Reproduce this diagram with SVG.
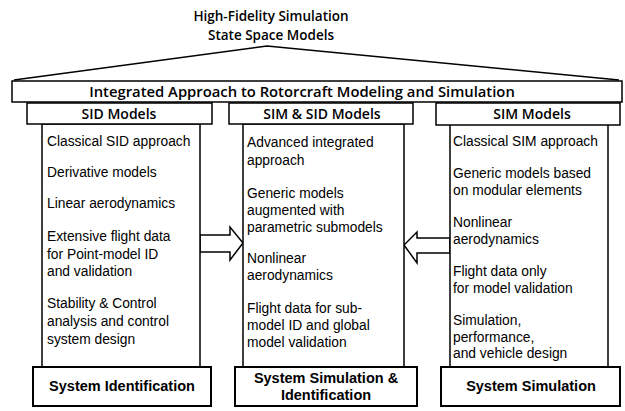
<svg xmlns="http://www.w3.org/2000/svg" width="625" height="411" viewBox="0 0 625 411">
  <style>
    text { font-family: "Open Sans", "Noto Sans", "Liberation Sans", sans-serif; fill: #000; }
    .title { font-size: 13.5px; font-weight: 600; text-anchor: middle; }
    .banner { font-size: 14.8px; font-weight: 600; text-anchor: middle; }
    .head { font-size: 14px; font-weight: 600; text-anchor: middle; }
    .body { font-family: "Liberation Sans", Arial, sans-serif; font-size: 13.8px; }
    .foot { font-family: "Liberation Sans", Arial, sans-serif; font-size: 14.5px; font-weight: bold; text-anchor: middle; }
    .box { fill: #fff; stroke: #000; stroke-width: 1.5; }
    .footbox { fill: #fff; stroke: #000; stroke-width: 2; }
    .arrow { fill: #fff; stroke: #000; stroke-width: 1.5; stroke-linejoin: miter; }
  </style>

  <rect width="625" height="411" fill="#fff"/>

  <!-- roof with title -->
  <g id="roof">
    <text class="title" x="271" y="21">High-Fidelity Simulation<tspan x="271" dy="19">State Space Models</tspan></text>
    <polyline points="14,80 267,46 619,80" fill="none" stroke="#000" stroke-width="1.5"/>
  </g>

  <!-- banner across the columns -->
  <g id="banner">
    <rect class="box" x="12" y="81" width="610" height="21"/>
    <text class="banner" x="302" y="97">Integrated Approach to Rotorcraft Modeling and Simulation</text>
  </g>

  <!-- connectors: hollow block arrows into the middle column -->
  <g id="connectors">
    <polygon class="arrow" points="200,235 230,235 230,227 243,243 230,260 230,252 200,252"/>
    <polygon class="arrow" points="450,238 417,238 417,232 404,245 417,263 417,253 450,253"/>
  </g>

  <!-- left column -->
  <g id="sid">
    <rect class="box" x="42" y="124" width="158" height="243"/>
    <rect class="box" x="27" y="103" width="185" height="21"/>
    <text class="head" x="119" y="119">SID Models</text>
    <text class="body" x="47" y="146">Classical SID approach</text>
    <text class="body" x="47" y="177">Derivative models</text>
    <text class="body" x="47" y="208">Linear aerodynamics</text>
    <text class="body" x="47" y="241">Extensive flight data<tspan x="47" dy="18">for Point-model ID</tspan><tspan x="47" dy="17">and validation</tspan></text>
    <text class="body" x="47" y="308">Stability &amp; Control<tspan x="47" dy="18">analysis and control</tspan><tspan x="47" dy="18">system design</tspan></text>
    <rect class="footbox" x="33" y="367" width="178" height="39"/>
    <text class="foot" x="122" y="391">System Identification</text>
  </g>

  <!-- middle column -->
  <g id="simsid">
    <rect class="box" x="243" y="124" width="161" height="243"/>
    <rect class="box" x="229" y="103" width="184" height="21"/>
    <text class="head" x="322" y="119">SIM &amp; SID Models</text>
    <text class="body" x="247" y="147">Advanced integrated<tspan x="247" dy="18">approach</tspan></text>
    <text class="body" x="247" y="198">Generic models<tspan x="247" dy="17">augmented with</tspan><tspan x="247" dy="17">parametric submodels</tspan></text>
    <text class="body" x="247" y="263">Nonlinear<tspan x="247" dy="17">aerodynamics</tspan></text>
    <text class="body" x="247" y="313">Flight data for sub-<tspan x="247" dy="17">model ID and global</tspan><tspan x="247" dy="16.5">model validation</tspan></text>
    <rect class="footbox" x="235" y="367" width="182" height="39"/>
    <text class="foot" x="326" y="383">System Simulation &amp;<tspan x="326" dy="17">Identification</tspan></text>
  </g>

  <!-- right column -->
  <g id="sim">
    <rect class="box" x="450" y="124" width="158" height="243"/>
    <rect class="box" x="436" y="103" width="184" height="22"/>
    <text class="head" x="532" y="119">SIM Models</text>
    <text class="body" x="453" y="146">Classical SIM approach</text>
    <text class="body" x="453" y="178">Generic models based<tspan x="453" dy="17">on modular elements</tspan></text>
    <text class="body" x="453" y="227">Nonlinear<tspan x="453" dy="16.5">aerodynamics</tspan></text>
    <text class="body" x="453" y="276">Flight data only<tspan x="453" dy="17">for model validation</tspan></text>
    <text class="body" x="453" y="325">Simulation,<tspan x="453" dy="16.5">performance,</tspan><tspan x="453" dy="16.5">and vehicle design</tspan></text>
    <rect class="footbox" x="441" y="367" width="179" height="39"/>
    <text class="foot" x="531" y="391">System Simulation</text>
  </g>
</svg>
